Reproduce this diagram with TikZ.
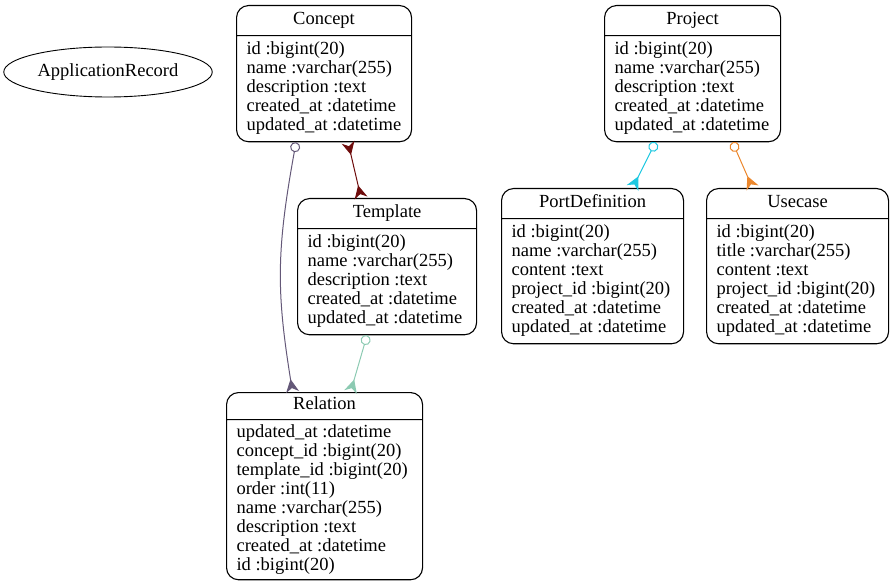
\documentclass[tikz,border=0pt]{standalone}
\usepackage{fontspec}
\setmainfont{Liberation Serif}
\usetikzlibrary{shapes.multipart,shapes.geometric,arrows.meta}

\definecolor{relred}{RGB}{110,12,12}
\definecolor{relgray}{RGB}{100,88,120}
\definecolor{relmint}{RGB}{140,202,178}
\definecolor{relcyan}{RGB}{30,200,225}
\definecolor{relorange}{RGB}{235,135,45}

\begin{document}
\begin{tikzpicture}[x=1pt,y=-1pt,
  table/.style={draw,line width=1.1pt,rounded corners=12pt,
    rectangle split,rectangle split parts=2,
    rectangle split part align={center,left},align=left,
    anchor=north west,inner xsep=10pt,inner ysep=5pt,
    font=\fontsize{18.5}{19}\selectfont},
  rel/.style={line width=1pt},
  crow/.tip={Stealth[reversed,length=13pt,width=13pt,inset=4pt]},
  ring/.tip={Circle[open,length=10pt]}]
  \useasboundingbox (0,0) rectangle (893,585);

  % Base class
  \node[draw,ellipse,line width=0.9pt,minimum width=206pt,minimum height=50pt,
    font=\fontsize{18.5}{19}\selectfont] (apprecord) at (108,72) {ApplicationRecord};

  % Tables
  \node[table,minimum width=175pt] (concept) at (236,5)
    {\strut Concept
     \nodepart{two}\strut id :bigint(20)\\ name :varchar(255)\\ description :text\\
     created\_at :datetime\\ updated\_at :datetime\strut};
  \node[table,minimum width=179pt] (template) at (297,198)
    {\strut Template
     \nodepart{two}\strut id :bigint(20)\\ name :varchar(255)\\ description :text\\
     created\_at :datetime\\ updated\_at :datetime\strut};
  \node[table,minimum width=196pt,inner ysep=3.5pt] (relation) at (226,392)
    {\strut Relation
     \nodepart{two}\strut updated\_at :datetime\\ concept\_id :bigint(20)\\
     template\_id :bigint(20)\\ order :int(11)\\ name :varchar(255)\\
     description :text\\ created\_at :datetime\\ id :bigint(20)\strut};
  \node[table,minimum width=176pt] (project) at (604,5)
    {\strut Project
     \nodepart{two}\strut id :bigint(20)\\ name :varchar(255)\\ description :text\\
     created\_at :datetime\\ updated\_at :datetime\strut};
  \node[table,minimum width=182pt] (portdef) at (501,188)
    {\strut PortDefinition
     \nodepart{two}\strut id :bigint(20)\\ name :varchar(255)\\ content :text\\
     project\_id :bigint(20)\\ created\_at :datetime\\ updated\_at :datetime\strut};
  \node[table,minimum width=182pt] (usecase) at (706,188)
    {\strut Usecase
     \nodepart{two}\strut id :bigint(20)\\ title :varchar(255)\\ content :text\\
     project\_id :bigint(20)\\ created\_at :datetime\\ updated\_at :datetime\strut};

  % Relations
  \draw[rel,relred,crow-crow] ([xshift=24pt]concept.south) -- ([xshift=-26pt]template.north);
  \draw[rel,relgray,ring-crow] ([xshift=-28pt]concept.south)
    .. controls +(-20,110) and +(-16,-100) .. ([xshift=-32pt]relation.north);
  \draw[rel,relmint,ring-crow] ([xshift=-20pt]template.south) -- ([xshift=26pt]relation.north);
  \draw[rel,relcyan,ring-crow] ([xshift=-37pt]project.south) -- ([xshift=40pt]portdef.north);
  \draw[rel,relorange,ring-crow] ([xshift=40pt]project.south) -- ([xshift=-45pt]usecase.north);
\end{tikzpicture}
\end{document}
